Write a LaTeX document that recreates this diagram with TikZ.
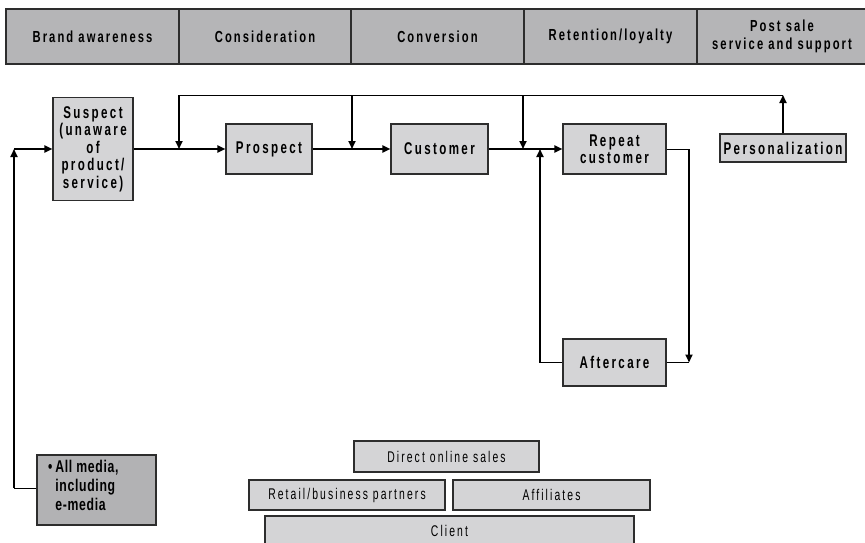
\documentclass[tikz,border=0pt]{standalone}
\usepackage{fontspec}
\setmainfont{Liberation Sans}[FakeStretch=0.8]
\newfontfamily\hdfont{Liberation Sans}[FakeStretch=0.7,LetterSpace=13]
\newfontfamily\bxfont{Liberation Sans}[FakeStretch=0.68,LetterSpace=14]
\newfontfamily\btfont{Liberation Sans}[FakeStretch=0.67,LetterSpace=13.5]
\newfontfamily\mdfont{Liberation Sans}[FakeStretch=0.72,LetterSpace=4]
\usetikzlibrary{arrows.meta}
\definecolor{hdgray}{RGB}{181,181,183}
\definecolor{bxgray}{RGB}{212,212,214}
\definecolor{mdgray}{RGB}{178,178,180}
\definecolor{edge}{RGB}{45,45,45}
\tikzset{
  hdcell/.style={draw=edge, line width=1.1pt, fill=hdgray, inner sep=0pt, minimum height=55pt,
    align=center, font=\hdfont\bfseries\fontsize{16}{18}\selectfont},
  stagebox/.style={draw=edge, line width=1.1pt, fill=bxgray, inner sep=0pt, align=center,
    font=\bxfont\bfseries\fontsize{17}{17.5}\selectfont},
  chanbox/.style={draw=edge, line width=1.1pt, fill=bxgray, inner sep=0pt, align=center,
    font=\btfont\fontsize{15.5}{16}\selectfont},
  thick line/.style={line width=1.8pt, draw=black},
  thin line/.style={line width=1pt, draw=black},
  tip/.style={-{Triangle[length=8pt,width=7pt]}}
}
\begin{document}
\begin{tikzpicture}[x=1pt,y=-1pt]
\useasboundingbox (0,0) rectangle (865,543);
% header
\node[hdcell, minimum width=173pt] (h1) at (92.5,36.5) {Brand awareness};
\node[hdcell, minimum width=172pt] (h2) at (265,36.5) {Consideration};
\node[hdcell, minimum width=173pt] (h3) at (437.5,36.5) {Conversion};
\node[hdcell, minimum width=173pt] (h4) at (610.5,36.5) {Retention/loyalty};
\node[hdcell, minimum width=170pt] (h5) at (782,36.5) {Post sale\\service and support};
% stage boxes
\node[stagebox, minimum width=80pt, minimum height=103pt] (suspect) at (93,149) {Suspect\\(unaware\\of\\product/\\service)};
\node[stagebox, minimum width=86pt, minimum height=50pt] (prospect) at (269,149) {Prospect};
\node[stagebox, minimum width=97pt, minimum height=50pt] (customer) at (439.5,149) {Customer};
\node[stagebox, minimum width=103pt, minimum height=50pt] (repeat) at (614.5,149) {Repeat\\customer};
\node[stagebox, minimum width=126pt, minimum height=28pt] (personal) at (783,148) {Personalization};
\node[stagebox, minimum width=103pt, minimum height=47pt] (aftercare) at (614.5,362.5) {Aftercare};
% media box
\node[draw=edge, line width=1.1pt, fill=mdgray, minimum width=119pt, minimum height=70pt, inner sep=0pt] (media) at (96.5,490) {};
\node[anchor=north west, align=left, inner sep=0pt, font=\mdfont\bfseries\fontsize{17}{19}\selectfont] (mediatext) at (48,460) {\textbullet\,All media,\\\phantom{\textbullet\,}including\\\phantom{\textbullet\,}e-media};
% channel boxes
\node[chanbox, minimum width=185pt, minimum height=31pt] (direct) at (446.5,456.5) {Direct online sales};
\node[chanbox, minimum width=196pt, minimum height=30pt] (retail) at (347,495) {Retail/business partners};
\node[chanbox, minimum width=197pt, minimum height=30pt] (affil) at (551.5,495) {Affiliates};
\node[chanbox, minimum width=369pt, minimum height=29pt] (client) at (449.5,530.5) {Client};
% coordinates
\coordinate (t1) at (179,95);
\coordinate (t2) at (352,95);
\coordinate (t3) at (523,95);
\coordinate (t4) at (783,95);
\coordinate (l1) at (14,149);
\coordinate (l2) at (14,488);
\coordinate (r1) at (689,149);
\coordinate (r2) at (689,362.5);
\coordinate (a1) at (540,362.5);
\coordinate (a2) at (540,149);
% main flow
\draw[thick line, tip] (suspect.east) -- (prospect.west);
\draw[thick line, tip] (prospect.east) -- (customer.west);
\draw[thick line, tip] (customer.east) -- (repeat.west);
% top loop
\draw[thin line] (t1) -- (t4);
\draw[thick line, tip] (t1) -- (t1 |- suspect.east);
\draw[thick line, tip] (t2) -- (t2 |- prospect.east);
\draw[thick line, tip] (t3) -- (t3 |- customer.east);
\draw[thick line, tip] (personal.north) -- (t4);
% left feed
\draw[thin line] (media.west |- l2) -- (l2);
\draw[thick line, tip] (l2) -- (l1);
\draw[thick line, tip] (l1) -- (suspect.west |- l1);
% repeat / aftercare loop
\draw[thin line] (repeat.east) -- (r1);
\draw[thick line, tip] (r1) -- (r2);
\draw[thin line] (aftercare.east) -- (r2);
\draw[thin line] (aftercare.west) -- (a1);
\draw[thick line, tip] (a1) -- (a2);
\end{tikzpicture}
\end{document}
